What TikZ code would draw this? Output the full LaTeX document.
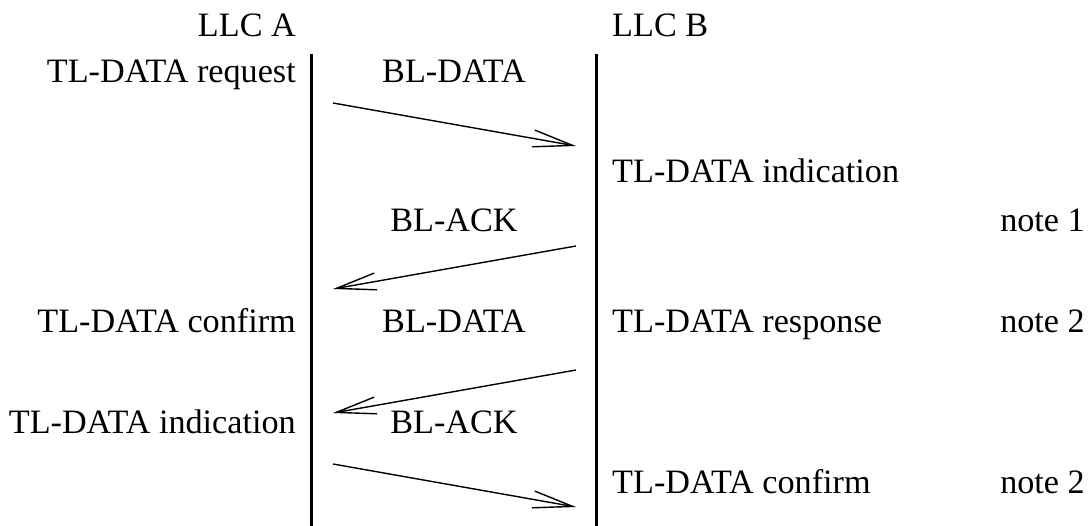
\documentclass[tikz,border=0pt]{standalone}
\usepackage{fontspec}
\setmainfont{Liberation Serif}
\usetikzlibrary{arrows.meta}
\begin{document}
\begin{tikzpicture}[x=1pt,y=-1pt,
  lbl/.style={inner sep=0pt,font=\fontsize{34.2}{40}\selectfont},
  lft/.style={lbl,anchor=base east},
  rgt/.style={lbl,anchor=base west},
  mid/.style={lbl,anchor=base},
  life/.style={line width=3pt},
  msg/.style={line width=1.4pt,-{Straight Barb[length=40pt,width=17pt,line width=1.4pt]}}]
\useasboundingbox (0,0) rectangle (1089,526);
% lifelines
\coordinate (atop) at (311,54);
\coordinate (abot) at (311,526);
\coordinate (btop) at (596,54);
\coordinate (bbot) at (596,526);
\draw[life] (atop) -- (abot);
\draw[life] (btop) -- (bbot);
% headers
\node[lft] (hA) at (296,37) {LLC A};
\node[rgt] (hB) at (612,37) {LLC B};
% labels left
\node[lft] (l1) at (296,83) {TL-DATA request};
\node[lft] (l2) at (296,333) {TL-DATA confirm};
\node[lft] (l3) at (296,433) {TL-DATA indication};
% labels middle
\node[mid] (m1) at (454,83) {BL-DATA};
\node[mid] (m2) at (454,232) {BL-ACK};
\node[mid] (m3) at (454,333) {BL-DATA};
\node[mid] (m4) at (454,433) {BL-ACK};
% labels right
\node[rgt] (r1) at (612,183) {TL-DATA indication};
\node[rgt] (r2) at (612,333) {TL-DATA response};
\node[rgt] (r3) at (612,493) {TL-DATA confirm};
% notes
\node[lft] (n1) at (1085,232) {note 1};
\node[lft] (n2) at (1085,333) {note 2};
\node[lft] (n3) at (1085,493) {note 2};
% message endpoints
\coordinate (s1) at (333,103); \coordinate (e1) at (576,146);
\coordinate (s2) at (576,246); \coordinate (e2) at (333,289);
\coordinate (s3) at (576,370); \coordinate (e3) at (333,413);
\coordinate (s4) at (333,464); \coordinate (e4) at (576,507);
\draw[msg] (s1) -- (e1);
\draw[msg] (s2) -- (e2);
\draw[msg] (s3) -- (e3);
\draw[msg] (s4) -- (e4);
\end{tikzpicture}
\end{document}
